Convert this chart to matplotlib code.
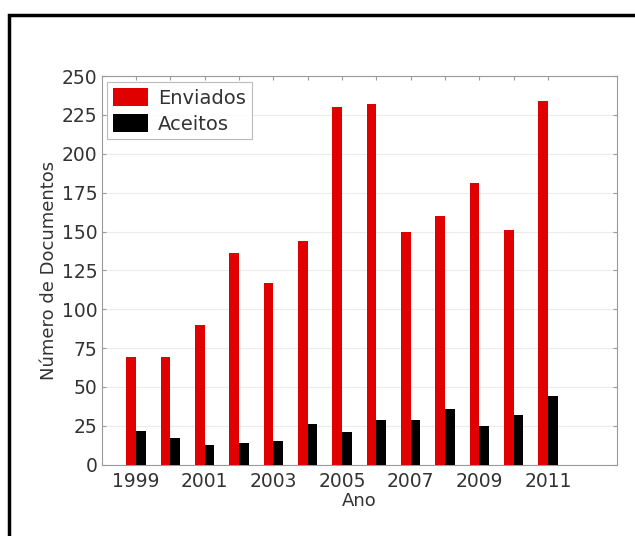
import matplotlib
matplotlib.use("Agg")
import matplotlib.pyplot as plt
import numpy as np
from matplotlib.patches import Rectangle

# Données
anos = np.arange(1999, 2012)
enviados = [69, 69, 90, 136, 117, 144, 230, 232, 150, 160, 181, 151, 234]
aceitos = [22, 17, 13, 14, 15, 26, 21, 29, 29, 36, 25, 32, 44]

plt.rcParams['font.family'] = ['DejaVu Sans']
cor_texto = '#333333'
cor_eixo = '#9a9a9a'

fig = plt.figure(figsize=(6.35, 5.36), dpi=100)
ax = fig.add_axes([0.160, 0.133, 0.811, 0.725])

# Barras
larg = 0.28
ax.bar(anos - larg / 2, enviados, width=larg, color='#e00000', label='Enviados', zorder=3)
ax.bar(anos + larg / 2, aceitos, width=larg, color='black', label='Aceitos', zorder=3)

ax.set_xlim(1998, 2013)
ax.set_ylim(0, 250)
ax.set_yticks(np.arange(0, 251, 25))
ax.set_xticks(anos)
ax.set_xticklabels([str(a) if a % 2 == 1 else '' for a in anos])

ax.grid(axis='y', color='#ececec', linewidth=0.8, zorder=0)
ax.tick_params(direction='in', top=True, right=True, length=3, color=cor_eixo,
               labelsize=13.5, labelcolor=cor_texto)
ax.tick_params(axis='x', pad=5)
ax.tick_params(axis='y', pad=3)
for s in ax.spines.values():
    s.set_color(cor_eixo)
    s.set_linewidth(0.8)

ax.set_ylabel('Número de Documentos', fontsize=13, color=cor_texto, labelpad=3)
ax.set_xlabel('Ano', fontsize=13, color=cor_texto, labelpad=1)

leg = ax.legend(loc='upper left', fontsize=14, frameon=True, fancybox=False,
                borderaxespad=0.3, handlelength=1.8, handleheight=1.1,
                handletextpad=0.5, labelspacing=0.3, borderpad=0.3)
leg.get_frame().set_edgecolor('#aaaaaa')
leg.get_frame().set_linewidth(0.8)
for t in leg.get_texts():
    t.set_color(cor_texto)

# Cadre noir autour de la figure
fig.patches.append(Rectangle((9 / 635, -0.05), 1.2, 1 - 15 / 536 + 0.05,
                             transform=fig.transFigure, fill=False,
                             edgecolor='black', linewidth=2.5))

fig.savefig('out.png', dpi=100)
